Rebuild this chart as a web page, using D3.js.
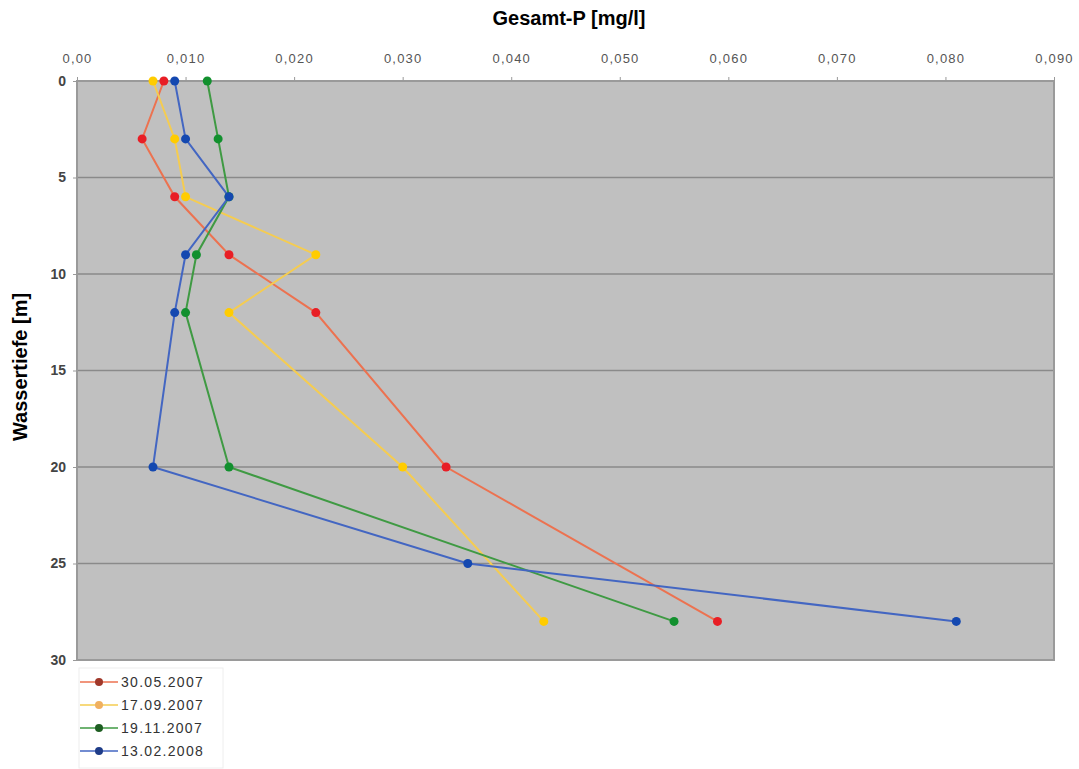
<!DOCTYPE html>
<html><head><meta charset="utf-8">
<script src="https://cdn.jsdelivr.net/npm/d3@7/dist/d3.min.js"></script>
<style>body{margin:0;background:#fff;}svg{display:block;}</style>
</head><body>
<svg id="chart" width="1079" height="769"></svg>
<script>
const seriesNames = ["30.05.2007", "17.09.2007", "19.11.2007", "13.02.2008"];
const depths = [0, 3, 6, 9, 12, 20, 28];
const depthsBlue = [0, 3, 6, 9, 12, 20, 25, 28];
const valuesRed = [0.008, 0.006, 0.009, 0.014, 0.022, 0.034, 0.059];
const valuesYellow = [0.007, 0.009, 0.010, 0.022, 0.014, 0.030, 0.043];
const valuesGreen = [0.012, 0.013, 0.014, 0.011, 0.010, 0.014, 0.055];
const valuesBlue = [0.009, 0.010, 0.014, 0.010, 0.009, 0.007, 0.036, 0.081];
const xTicks = [0, 0.01, 0.02, 0.03, 0.04, 0.05, 0.06, 0.07, 0.08, 0.09];
const yTicks = [0, 5, 10, 15, 20, 25, 30];
const lineColors = ["#ec7250", "#f5cc50", "#3f9a43", "#4366c2"];
const markerColors = ["#e81e25", "#ffcc00", "#12902e", "#1448b0"];

const series = [
  {name: seriesNames[0], d: depths, v: valuesRed},
  {name: seriesNames[1], d: depths, v: valuesYellow},
  {name: seriesNames[2], d: depths, v: valuesGreen},
  {name: seriesNames[3], d: depthsBlue, v: valuesBlue}
];

const svg = d3.select("#chart");
const L = 77, R = 1054, T = 81, B = 660;
const x = d3.scaleLinear().domain([0, 0.09]).range([L, R]);
const y = d3.scaleLinear().domain([0, 30]).range([T, B]);
const FONT = "Liberation Sans, Arial, sans-serif";

svg.append("rect").attr("x", L).attr("y", T).attr("width", R - L).attr("height", B - T)
  .attr("fill", "#c0c0c0");

svg.append("g").selectAll("line").data(yTicks.filter(t => t > 0 && t < 30)).join("line")
  .attr("x1", L).attr("x2", R).attr("y1", d => y(d)).attr("y2", d => y(d))
  .attr("stroke", "#8a8a8a").attr("stroke-width", 1.5);

svg.append("rect").attr("x", L).attr("y", T).attr("width", R - L).attr("height", B - T)
  .attr("fill", "none").attr("stroke", "#9a9a9a").attr("stroke-width", 2);

const fmt = d => d === 0 ? "0,00" : d3.format(".3f")(d).replace(".", ",");
const xAxis = svg.append("g").attr("transform", `translate(0,${T})`)
  .call(d3.axisTop(x).tickValues(xTicks).tickFormat(fmt).tickSize(4).tickPadding(14));
xAxis.select(".domain").remove();
xAxis.selectAll(".tick line").attr("stroke", "#999");
xAxis.selectAll("text").attr("fill", "#555").style("font-family", FONT)
  .style("font-size", "13px").style("letter-spacing", "1.2px");

const yAxis = svg.append("g").attr("transform", `translate(${L},0)`)
  .call(d3.axisLeft(y).tickValues(yTicks).tickSize(4).tickPadding(7));
yAxis.select(".domain").remove();
yAxis.selectAll(".tick line").attr("stroke", "#999");
yAxis.selectAll("text").attr("fill", "#444").style("font-family", FONT)
  .style("font-size", "14px").style("font-weight", "bold");

svg.append("text").attr("x", 569).attr("y", 25).attr("text-anchor", "middle")
  .style("font-family", FONT).style("font-size", "20px").style("font-weight", "bold")
  .text("Gesamt-P [mg/l]");
svg.append("text").attr("transform", "translate(27,367) rotate(-90)").attr("text-anchor", "middle")
  .style("font-family", FONT).style("font-size", "20px").style("font-weight", "bold")
  .text("Wassertiefe [m]");

const line = d3.line().x(p => x(p[1])).y(p => y(p[0]));
series.forEach((s, i) => {
  const pts = s.d.map((dd, k) => [dd, s.v[k]]);
  svg.append("path").datum(pts).attr("d", line).attr("fill", "none")
    .attr("stroke", lineColors[i]).attr("stroke-width", 2);
});
series.forEach((s, i) => {
  const pts = s.d.map((dd, k) => [dd, s.v[k]]);
  svg.append("g").selectAll("circle").data(pts).join("circle")
    .attr("cx", p => x(p[1])).attr("cy", p => y(p[0])).attr("r", 4.5)
    .attr("fill", markerColors[i]);
});

const lg = svg.append("g");
lg.append("rect").attr("x", 79).attr("y", 668).attr("width", 144).attr("height", 100)
  .attr("fill", "#fff").attr("stroke", "#eee");
const legMarker = ["#a0382a", "#f0b060", "#1e5e22", "#1e3c88"];
seriesNames.forEach((n, i) => {
  const yy = 682 + i * 23;
  lg.append("line").attr("x1", 80).attr("x2", 118).attr("y1", yy).attr("y2", yy)
    .attr("stroke", lineColors[i]).attr("stroke-width", 1.5);
  lg.append("circle").attr("cx", 99).attr("cy", yy).attr("r", 4).attr("fill", legMarker[i]);
  lg.append("text").attr("x", 121).attr("y", yy + 5).text(n)
    .attr("fill", "#333").style("font-family", FONT).style("font-size", "14px")
    .style("letter-spacing", "1.3px");
});
</script>
</body></html>
